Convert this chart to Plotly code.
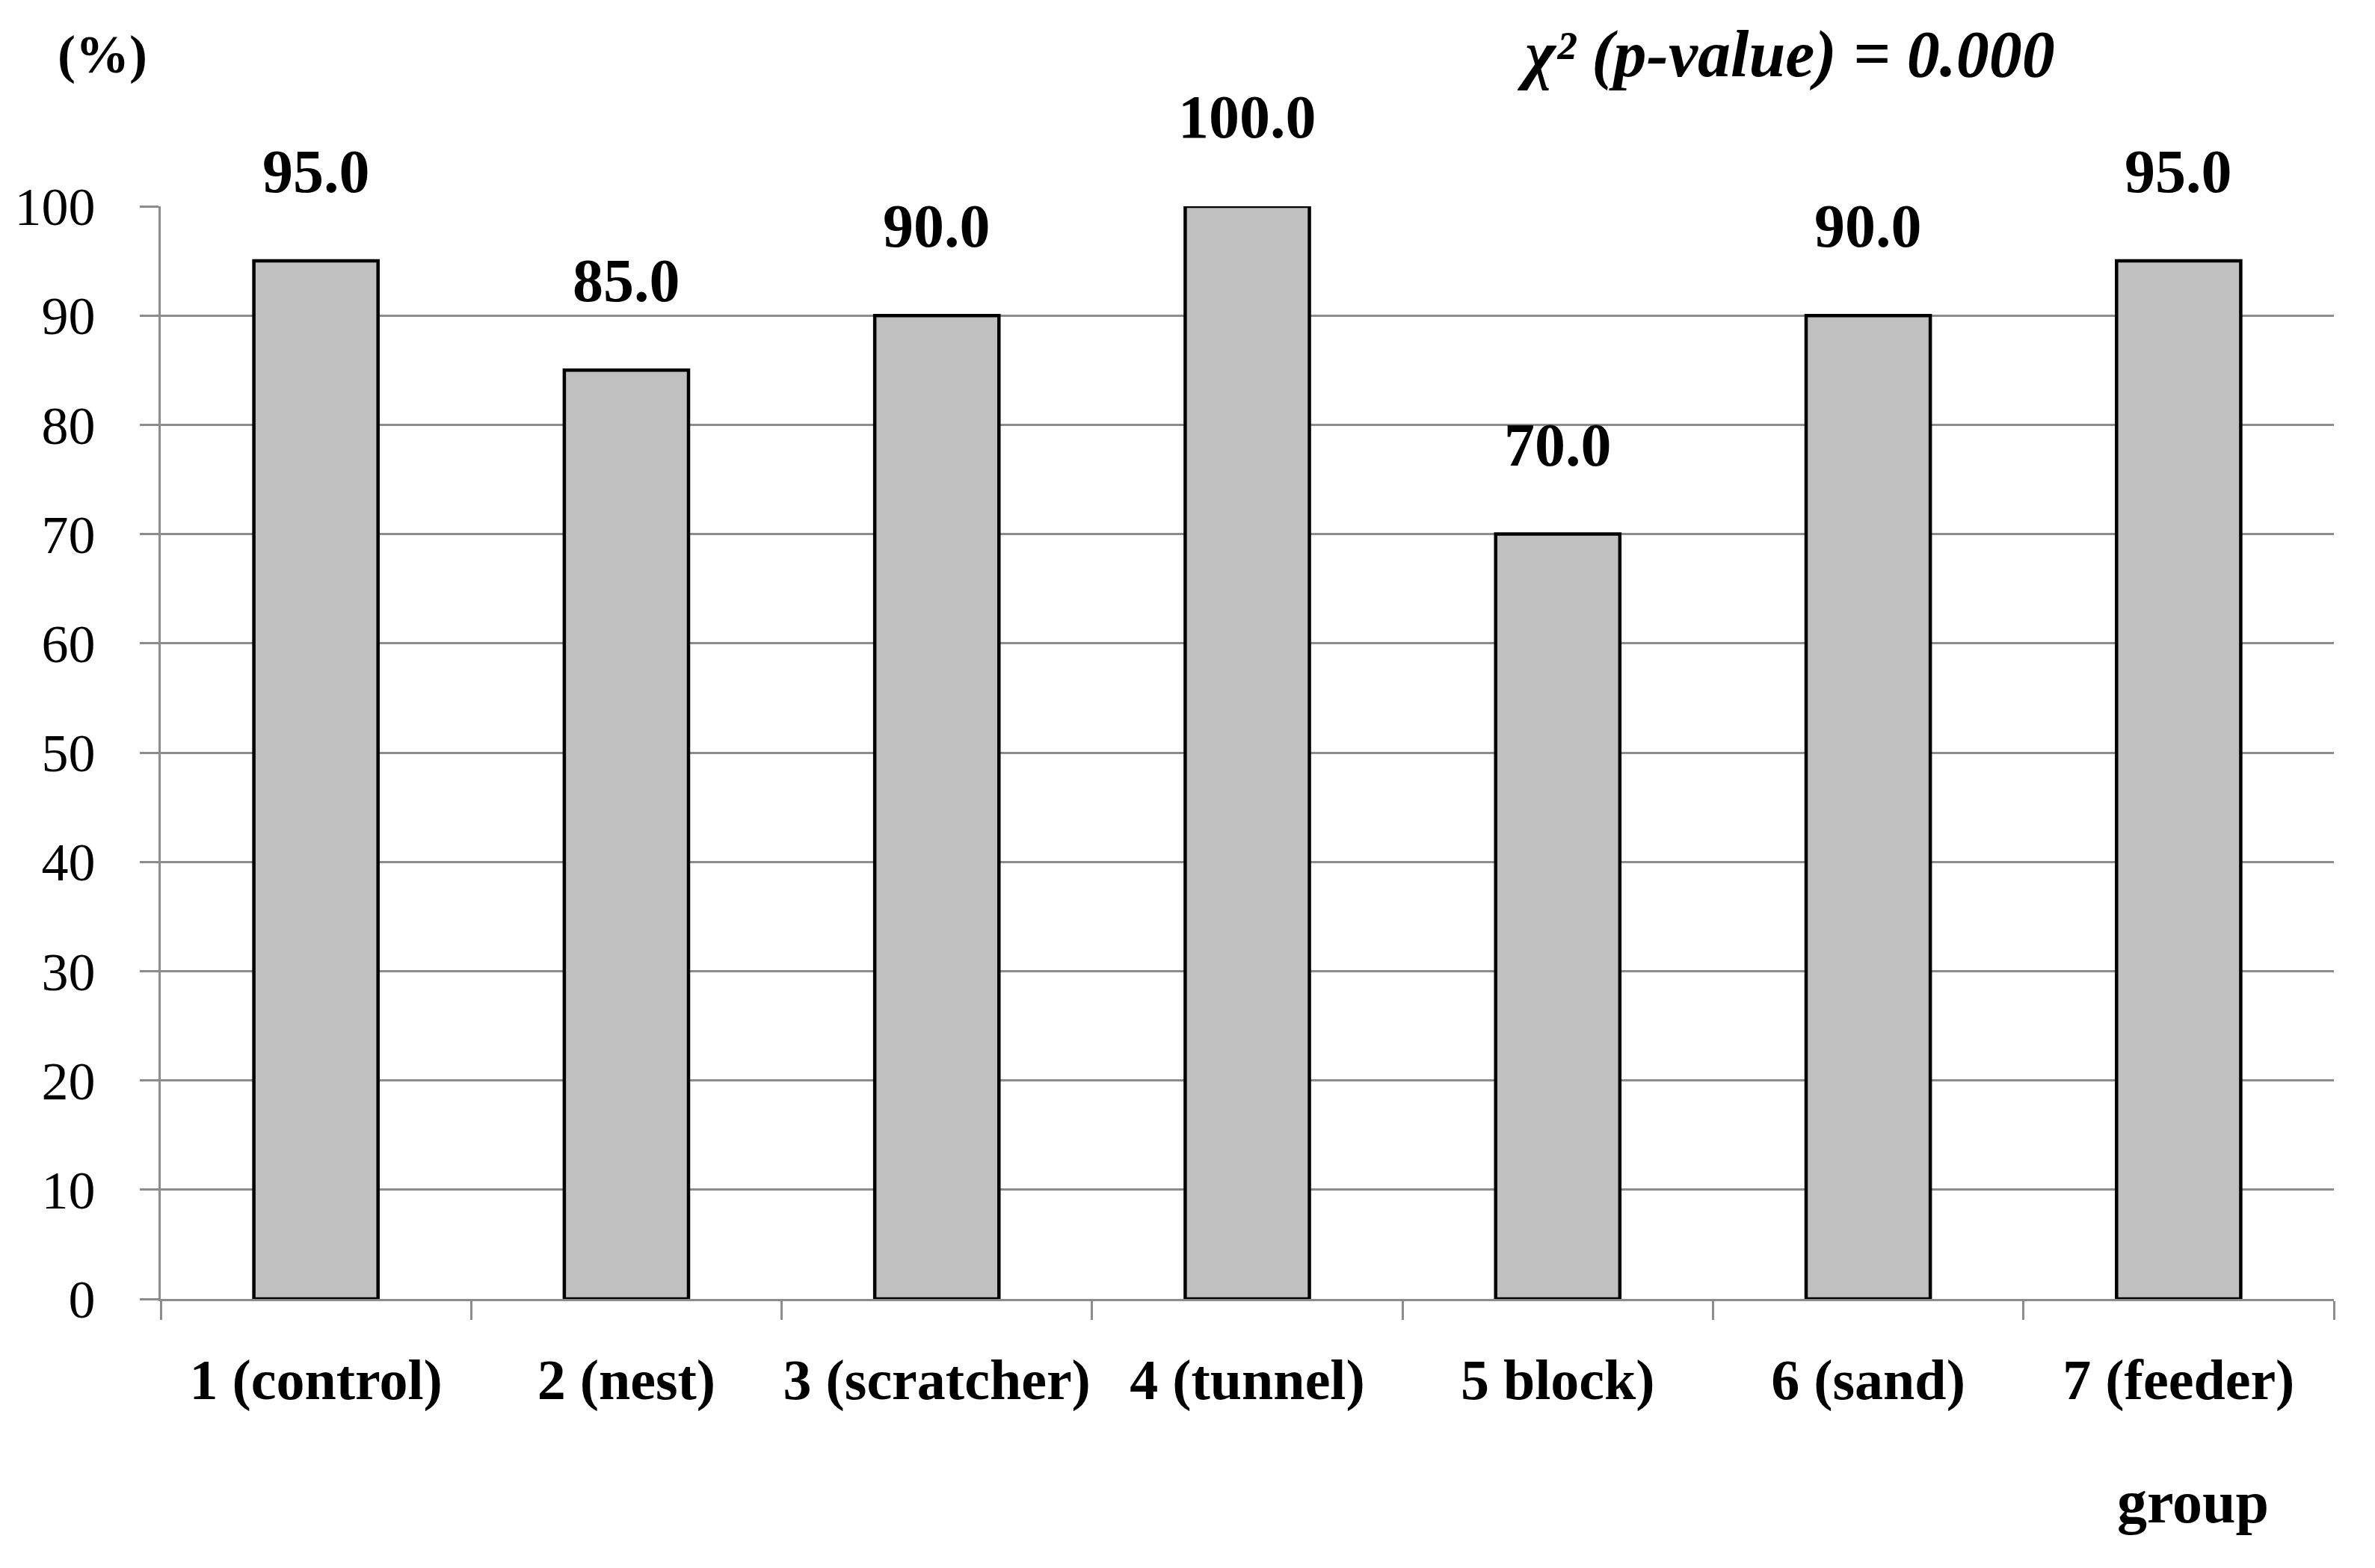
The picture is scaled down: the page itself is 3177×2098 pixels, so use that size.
import plotly.graph_objects as go

categories = ["1 (control)", "2 (nest)", "3 (scratcher)", "4 (tunnel)", "5 block)", "6 (sand)", "7 (feeder)"]
values = [95.0, 85.0, 90.0, 100.0, 70.0, 90.0, 95.0]
y_ticks = [0, 10, 20, 30, 40, 50, 60, 70, 80, 90, 100]

FONT = "Liberation Serif"
GRID = "#8c8c8c"

fig = go.Figure()
fig.add_trace(go.Bar(
    x=categories, y=values,
    marker=dict(color="#c0c0c0", line=dict(color="black", width=4.5)),
    width=0.4, showlegend=False,
))

for c, v in zip(categories, values):
    fig.add_annotation(x=c, y=v, text=f"<b>{v:.1f}</b>", showarrow=False,
                       yanchor="bottom", yshift=72,
                       font=dict(family=FONT, size=82, color="black"))

fig.add_annotation(xref="paper", yref="paper", x=-0.027, y=1.139, text="<b>(%)</b>",
                   showarrow=False, xanchor="center", yanchor="middle",
                   font=dict(family=FONT, size=72, color="black"))
fig.add_annotation(xref="paper", yref="paper", x=0.748, y=1.139,
                   text="<b><i>χ² (p-value) = 0.000</i></b>",
                   showarrow=False, xanchor="center", yanchor="middle",
                   font=dict(family=FONT, size=88, color="black"))
fig.add_annotation(xref="paper", yref="paper", x=0.935, y=-0.186, text="<b>group</b>",
                   showarrow=False, xanchor="center", yanchor="middle",
                   font=dict(family=FONT, size=80, color="black"))

fig.update_layout(
    width=3177, height=2098,
    margin=dict(l=207, r=63, t=268, b=368, pad=0, autoexpand=False),
    paper_bgcolor="white", plot_bgcolor="white",
    bargap=0.6,
)
fig.update_xaxes(
    type="category", tickson="boundaries", ticks="outside", ticklen=25,
    tickwidth=3, tickcolor=GRID, showline=True, linecolor=GRID, linewidth=3,
    showgrid=False, ticklabelstandoff=40, tickangle=0, automargin=False,
    tickfont=dict(family=FONT, size=76, color="black"),
    tickprefix="<b>", ticksuffix="</b>",
)
fig.update_yaxes(
    range=[0, 100], tickvals=y_ticks, ticks="outside", ticklen=25,
    tickwidth=3, tickcolor=GRID, showline=True, linecolor=GRID, linewidth=3,
    showgrid=True, gridcolor=GRID, gridwidth=3, zeroline=False,
    ticklabelstandoff=45, automargin=False,
    tickfont=dict(family=FONT, size=72, color="black"),
)

fig.write_html("out.html")
